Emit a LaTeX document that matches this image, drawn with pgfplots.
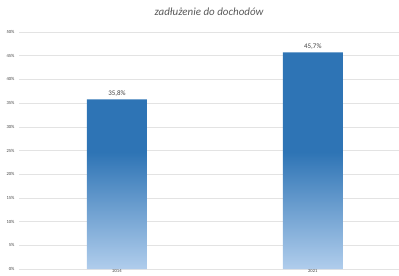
\documentclass[border=0pt]{standalone}
\usepackage{pgfplots}
\pgfplotsset{compat=1.18}
\usepackage{fontspec}
\setmainfont{Carlito}
\definecolor{bardark}{HTML}{2E74B5}
\definecolor{barlight}{HTML}{B0CDEC}
\definecolor{gridc}{HTML}{E3E3E3}
\definecolor{txt}{HTML}{404040}
\pgfdeclareverticalshading{barshade}{100bp}{color(0bp)=(barlight); color(25bp)=(barlight); color(52bp)=(bardark); color(75bp)=(bardark); color(100bp)=(bardark)}
\begin{document}
\begin{tikzpicture}
\path[use as bounding box] (0,0) rectangle (399bp,276bp);
\begin{axis}[
  at={(19bp,7bp)}, anchor=south west,
  scale only axis, width=380bp, height=237bp,
  xmin=-0.5, xmax=1.44, ymin=0, ymax=50,
  axis line style={draw=none},
  ymajorgrids, grid style={gridc, line width=0.6pt},
  ytick={0,5,...,50},
  yticklabel={\pgfmathprintnumber{\tick}\%},
  xtick={0,1}, xticklabels={2014,2021},
  tick style={draw=none},
  ticklabel style={font=\fontsize{4.6}{5}\selectfont, text=txt},
  yticklabel style={xshift=-1bp},
  xticklabel style={yshift=3bp},
  /pgf/number format/assume math mode=true,
  clip=false,
  title={zadłużenie do dochodów},
  title style={font=\fontsize{11}{12}\itshape, text=black!65, yshift=7bp},
  point meta=explicit symbolic,
  nodes near coords,
  every node near coord/.append style={font=\fontsize{7}{8}\selectfont, text=black!75, yshift=-1bp},
]
\addplot[ybar, bar width=60bp, draw=none, shading=barshade]
  coordinates {(0,35.8) [{35,8\%}] (1,45.7) [{45,7\%}]};
\end{axis}
\end{tikzpicture}
\end{document}
